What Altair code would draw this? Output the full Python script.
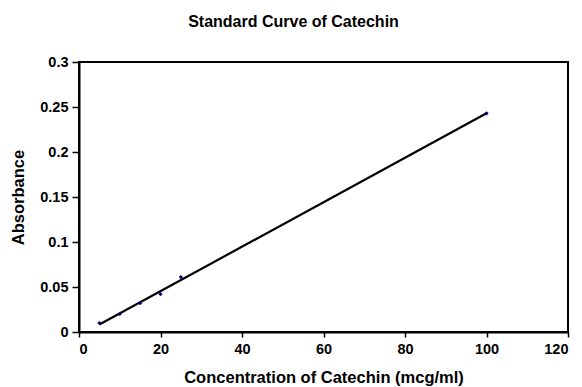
import altair as alt
import pandas as pd

conc = [5, 10, 15, 20, 25, 100]
absorb = [0.010, 0.020, 0.032, 0.042, 0.061, 0.243]
x_ticks = [0, 20, 40, 60, 80, 100, 120]
y_ticks = [0, 0.05, 0.1, 0.15, 0.2, 0.25, 0.3]

df = pd.DataFrame({"conc": conc, "abs": absorb})

FONT = "Liberation Sans"

x = alt.X("conc:Q", scale=alt.Scale(domain=[0, 120], nice=False, zero=False),
          axis=alt.Axis(values=x_ticks, title="Concentration of Catechin (mcg/ml)",
                        grid=False, tickSize=5, labelPadding=5,
                        titleX=244.5, titleY=45, titleBaseline="middle",
                        titleAlign="center"))
y = alt.Y("abs:Q", scale=alt.Scale(domain=[0, 0.3], nice=False),
          axis=alt.Axis(values=y_ticks, format="~g", title="Absorbance",
                        grid=False, tickSize=7, labelPadding=4,
                        titleX=-61, titleY=135, titleBaseline="middle",
                        titleAlign="center", titleAngle=-90))

line = alt.Chart(df).transform_regression("conc", "abs").mark_line(
    color="black", strokeWidth=2.2).encode(x=x, y=y)

pts = alt.Chart(df).mark_point(shape="diamond", filled=True, color="#000080",
                               size=18, opacity=1).encode(x=x, y=y)

chart = (line + pts).properties(
    width=489, height=270,
    padding={"left": 79, "top": 62, "right": 14, "bottom": 55},
    autosize=alt.AutoSizeParams(type="none"),
    title=alt.TitleParams("Standard Curve of Catechin", font=FONT, fontSize=16,
                          fontWeight="bold", color="black", anchor="middle",
                          dx=-30, offset=24),
    background="white",
).configure_view(stroke="black", strokeWidth=2).configure_axis(
    labelFont=FONT, labelFontSize=14.5, labelFontWeight="bold", labelColor="black",
    titleFont=FONT, titleFontSize=16.5, titleFontWeight="bold", titleColor="black",
    domainColor="black", domainWidth=2, tickColor="black", tickWidth=1.5,
)

chart.save("out.html", embed_options={"renderer": "svg", "actions": False})
